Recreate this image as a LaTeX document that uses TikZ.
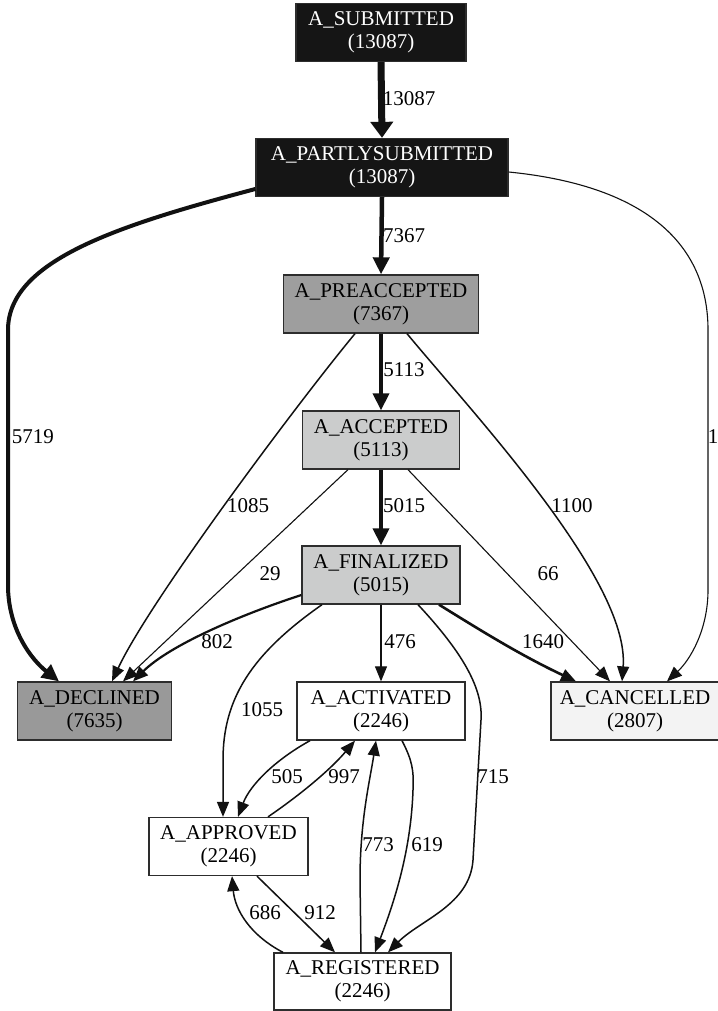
\documentclass[tikz,border=0pt]{standalone}
\usepackage{fontspec}
\setmainfont{Liberation Serif}
\usetikzlibrary{arrows.meta}

\definecolor{darkfill}{RGB}{21,21,21}
\definecolor{midgray}{RGB}{158,158,158}
\definecolor{lightgray}{RGB}{203,204,204}
\definecolor{declgray}{RGB}{153,153,153}
\definecolor{palegray}{RGB}{243,243,243}
\definecolor{boxline}{RGB}{45,45,45}
\definecolor{edgecol}{RGB}{17,17,17}

\newcommand{\procfont}{\fontsize{21}{23}\selectfont}

\begin{document}
\begin{tikzpicture}[x=1pt,y=-1pt,
  proc/.style={draw=boxline, line width=1.3pt, inner sep=0pt, align=center,
               font=\procfont, minimum height=58pt},
  lbl/.style={font=\procfont, inner sep=0pt, text=black},
  flow/.style={draw=edgecol, line width=1.5pt,
               -{Triangle[length=15pt,width=12pt]}},
  thinflow/.style={flow, line width=1.1pt},
  heavyflow/.style={draw=edgecol, line width=#1,
               -{Triangle[length=17pt,width=16pt]}},
  hugeflow/.style={draw=edgecol, line width=7pt,
               -{Triangle[length=16pt,width=22pt]}}]

\useasboundingbox (0,0) rectangle (717,1011);
\fill[white] (0,0) rectangle (717,1011);

% process states
\node[proc, fill=darkfill, text=white, minimum width=170pt] (sub)  at (381,32.5)  {A\_SUBMITTED\\(13087)};
\node[proc, fill=darkfill, text=white, minimum width=252pt] (part) at (382,167.5) {A\_PARTLYSUBMITTED\\(13087)};
\node[proc, fill=midgray,   minimum width=195pt] (pre)  at (381,304)   {A\_PREACCEPTED\\(7367)};
\node[proc, fill=lightgray, minimum width=157pt] (acc)  at (381,440)   {A\_ACCEPTED\\(5113)};
\node[proc, fill=lightgray, minimum width=158pt] (fin)  at (381,575)   {A\_FINALIZED\\(5015)};
\node[proc, fill=declgray,  minimum width=154pt] (dec)  at (94.5,711)  {A\_DECLINED\\(7635)};
\node[proc, fill=white,     minimum width=168pt] (act)  at (381,711)   {A\_ACTIVATED\\(2246)};
\node[proc, fill=palegray,  minimum width=168pt] (can)  at (635,711)   {A\_CANCELLED\\(2807)};
\node[proc, fill=white,     minimum width=159pt] (app)  at (228.5,846.5) {A\_APPROVED\\(2246)};
\node[proc, fill=white,     minimum width=177pt, minimum height=57pt] (reg) at (362.5,981.5) {A\_REGISTERED\\(2246)};

% main spine
\draw[hugeflow] (sub.south) -- (part.north);
\draw[heavyflow=4.5pt] (part.south) -- (pre.north);
\draw[heavyflow=3.5pt] (pre.south) -- (acc.north);
\draw[heavyflow=3.5pt] (acc.south) -- (fin.north);

% outer arcs
\draw[heavyflow=4pt] ([yshift=-21.5pt]part.west) .. controls (120,225) and (8,260) .. (8,330)
  -- (8,585) .. controls (8,630) and (32,660) .. ([xshift=-35.5pt]dec.north);
\draw[thinflow] ([yshift=-4.5pt]part.east) .. controls (640,185) and (708,240) .. (708,330)
  -- (708,590) .. controls (708,630) and (690,660) .. ([xshift=32pt]can.north);

% towards declined and cancelled
\draw[flow] ([xshift=-26pt]pre.south) .. controls (300,400) and (150,600) .. ([xshift=17.5pt]dec.north);
\draw[flow] ([xshift=26pt]pre.south) .. controls (470,410) and (630,580) .. ([xshift=-13pt]can.north);
\draw[thinflow] ([xshift=-33pt]acc.south) -- ([xshift=28.5pt]dec.north);
\draw[thinflow] ([xshift=27pt]acc.south) -- ([xshift=-25pt]can.north);
\draw[flow, line width=2.2pt] ([yshift=-20pt]fin.west) .. controls (240,615) and (170,645) .. ([xshift=38.5pt]dec.north);
\draw[flow, line width=2.6pt] ([xshift=58pt]fin.south) .. controls (480,630) and (520,655) .. ([xshift=-59pt]can.north);

% after finalization
\draw[thinflow] (fin.south) -- (act.north);
\draw[flow] ([xshift=-59pt]fin.south) .. controls (250,655) and (223,700) .. (223,760) -- ([xshift=-5.5pt]app.north);
\draw[flow] ([xshift=37pt]fin.south) .. controls (465,655) and (483,690) .. (481,720)
  -- (473,860) .. controls (470,905) and (420,920) .. ([xshift=25.5pt]reg.north);

% loops among activated, approved and registered
\draw[flow] ([xshift=-71pt]act.south) .. controls (275,760) and (250,785) .. ([xshift=9.5pt]app.north);
\draw[flow] ([xshift=39.5pt]app.north) .. controls (300,795) and (330,770) .. ([xshift=-26pt]act.south);
\draw[flow] ([xshift=-1.5pt]reg.north) -- (360,880) .. controls (360,820) and (370,780) .. ([xshift=-5pt]act.south);
\draw[flow] ([xshift=21pt]act.south) .. controls (412,760) and (414,770) .. (413,790)
  .. controls (411,850) and (395,900) .. ([xshift=12.5pt]reg.north);
\draw[flow] ([xshift=28.5pt]app.south) -- ([xshift=-27.5pt]reg.north);
\draw[flow] ([xshift=-79.5pt]reg.north) .. controls (250,935) and (235,910) .. ([xshift=3.5pt]app.south);

% transition counts
\node[lbl] (n13087) at (409,99)  {13087};
\node[lbl] (n7367)  at (404,236) {7367};
\node[lbl] (n5113)  at (404,370) {5113};
\node[lbl] (n5015)  at (404,506) {5015};
\node[lbl] (n5719)  at (33,437)  {5719};
\node[lbl] (n1)     at (713,437) {1};
\node[lbl] (n1085)  at (248,506) {1085};
\node[lbl] (n1100)  at (572,506) {1100};
\node[lbl] (n29)    at (270,574) {29};
\node[lbl] (n66)    at (548,574) {66};
\node[lbl] (n802)   at (217,642) {802};
\node[lbl] (n476)   at (400,642) {476};
\node[lbl] (n1640)  at (543,642) {1640};
\node[lbl] (n1055)  at (262,710) {1055};
\node[lbl] (n505)   at (287,777) {505};
\node[lbl] (n997)   at (344,777) {997};
\node[lbl] (n715)   at (493,777) {715};
\node[lbl] (n773)   at (378,845) {773};
\node[lbl] (n619)   at (427,845) {619};
\node[lbl] (n686)   at (265,913) {686};
\node[lbl] (n912)   at (320,913) {912};

\end{tikzpicture}
\end{document}
